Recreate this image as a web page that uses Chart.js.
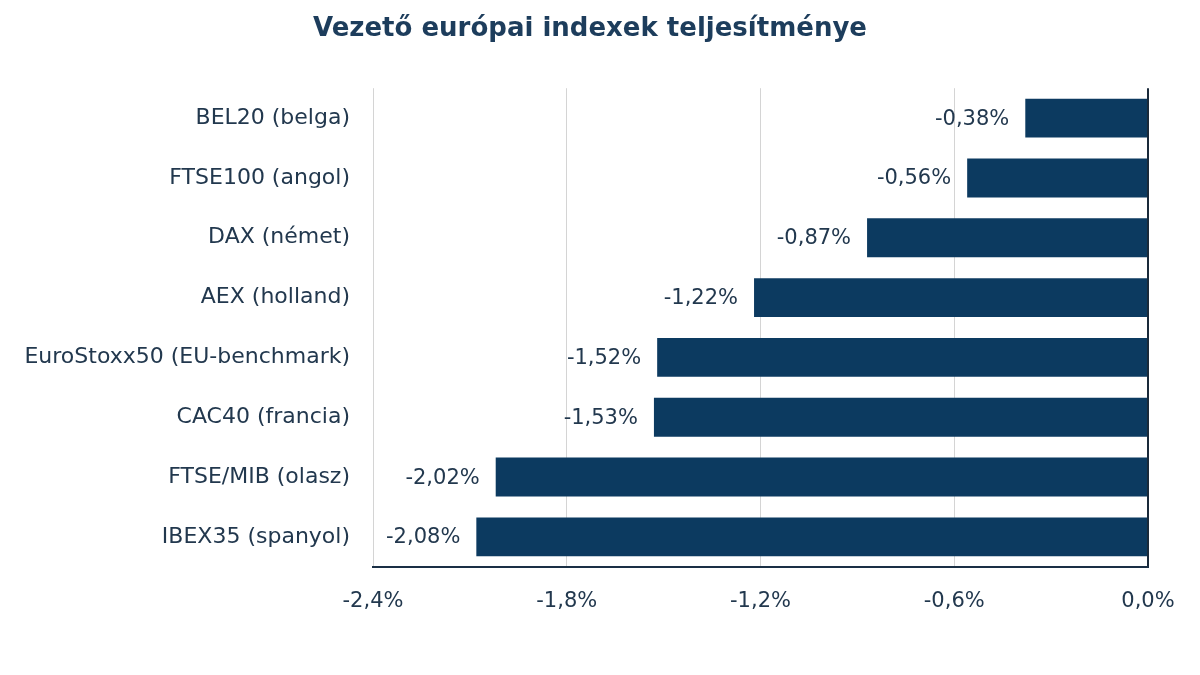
<!DOCTYPE html>
<html>
<head>
<meta charset="utf-8">
<script src="https://cdn.jsdelivr.net/npm/chart.js@4"></script>
<style>
  html, body { margin: 0; padding: 0; background: #fff; }
  #wrap { width: 1200px; height: 675px; }
</style>
</head>
<body>
<div id="wrap"><canvas id="chart" width="1200" height="675"></canvas></div>
<script>
const FONT = "'DejaVu Sans', Tahoma, Verdana, sans-serif";
const TITLE = "Vezető európai indexek teljesítménye";

// indexek, felülről lefelé
const indexNames = [
    "BEL20 (belga)",
    "FTSE100 (angol)",
    "DAX (német)",
    "AEX (holland)",
    "EuroStoxx50 (EU-benchmark)",
    "CAC40 (francia)",
    "FTSE/MIB (olasz)",
    "IBEX35 (spanyol)"
];
// napi változás, %
const changes = [-0.38, -0.56, -0.87, -1.22, -1.52, -1.53, -2.02, -2.08];

// x tengely
const axisMin = -2.4;
const axisMax = 0;
const axisStep = 0.6;

const NAVY = "#0c3a60";
const TEXT = "#22384e";

function pct(v, digits) {
    return v.toFixed(digits).replace(".", ",") + "%";
}

// érték címkék a sávok bal végénél
const barLabels = {
    id: "barLabels",
    afterDatasetsDraw(chart) {
        const ctx = chart.ctx;
        const meta = chart.getDatasetMeta(0);
        ctx.save();
        ctx.font = "21px " + FONT;
        ctx.fillStyle = TEXT;
        ctx.textAlign = "right";
        ctx.textBaseline = "middle";
        meta.data.forEach((bar, i) => {
            ctx.fillText(pct(changes[i], 2), bar.x - 16, bar.y + 1);
        });
        ctx.restore();
    }
};

new Chart(document.getElementById("chart"), {
    type: "bar",
    data: {
        labels: indexNames,
        datasets: [{
            data: changes,
            backgroundColor: NAVY,
            borderWidth: 0,
            categoryPercentage: 0.65,
            barPercentage: 1
        }]
    },
    options: {
        indexAxis: "y",
        responsive: false,
        animation: false,
        layout: { padding: { left: 0, right: 20, top: 0, bottom: 39 } },
        plugins: {
            legend: { display: false },
            tooltip: { enabled: false },
            title: {
                display: true,
                text: TITLE,
                color: "#1d3d5c",
                font: { family: FONT, size: 26, weight: "bold" },
                padding: { top: 14, bottom: 43 }
            }
        },
        scales: {
            x: {
                min: axisMin,
                max: axisMax,
                afterFit(s) { s.paddingRight = 52; },
                ticks: {
                    stepSize: axisStep,
                    color: TEXT,
                    padding: 22,
                    font: { family: FONT, size: 21 },
                    callback: v => pct(v, 1)
                },
                grid: {
                    drawTicks: false,
                    color: c => (c.tick && c.tick.value === 0) ? "#1a2a3a" : "#d4d4d4",
                    lineWidth: c => (c.tick && c.tick.value === 0) ? 2 : 1
                },
                border: { display: true, color: "#1a2f45", width: 2 }
            },
            y: {
                afterFit(s) { s.width = 373; },
                ticks: {
                    color: TEXT,
                    padding: 23,
                    font: { family: FONT, size: 22 }
                },
                grid: { display: false, drawTicks: false },
                border: { display: false }
            }
        }
    },
    plugins: [barLabels]
});
</script>
</body>
</html>
